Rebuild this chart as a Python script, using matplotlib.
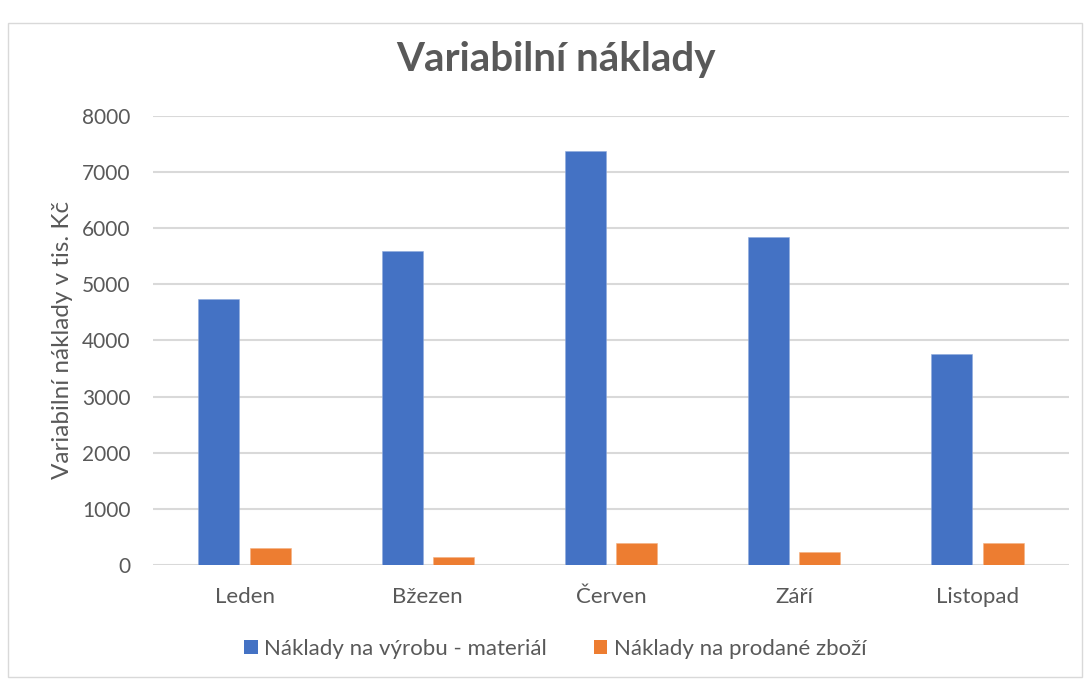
import matplotlib
matplotlib.use("Agg")
import matplotlib.pyplot as plt
from matplotlib.patches import Rectangle, Patch
import numpy as np

categories = ["Leden", "Bžezen", "Červen", "Září", "Listopad"]
material = [4740, 5590, 7380, 5840, 3750]
zbozi = [310, 145, 390, 240, 400]
series_names = ["Náklady na výrobu - materiál", "Náklady na prodané zboží"]
yticks = [0, 1000, 2000, 3000, 4000, 5000, 6000, 7000, 8000]

BLUE = "#4472C4"
ORANGE = "#ED7D31"
GRID = "#D9D9D9"
TXT = "#595959"

plt.rcParams['font.family'] = ['Lato', 'DejaVu Sans']

fig = plt.figure(figsize=(10.85, 6.82), dpi=100)
fig.patch.set_facecolor("white")
fig.patches.append(Rectangle((8/1085, 1-677/682), (1082-8)/1085, (677-23)/682,
                             transform=fig.transFigure, fill=False,
                             edgecolor=GRID, linewidth=1.0))

ax = fig.add_axes([153/1085, 1-565/682, (1069-153)/1085, (565-115.7)/682])
x = np.arange(len(categories))
w = 0.224
off = 0.14
ax.bar(x - off, material, width=w, color=BLUE, edgecolor="#8FAADC", linewidth=0.4, zorder=3)
ax.bar(x + off, zbozi, width=w, color=ORANGE, edgecolor="#F4B183", linewidth=0.4, zorder=3)

ax.set_xlim(-0.5, len(categories) - 0.5)
ax.set_ylim(0, 8000)
ax.set_yticks(yticks)
ax.set_yticklabels([str(v) for v in yticks])
ax.set_xticks(x)
ax.set_xticklabels(categories)
ax.yaxis.grid(True, color=GRID, linewidth=1.5, zorder=0)
ax.set_axisbelow(True)
for s in ax.spines.values():
    s.set_visible(False)
ax.tick_params(axis='both', length=0, labelcolor=TXT)
ax.tick_params(axis='y', pad=16, labelsize=15)
ax.tick_params(axis='x', pad=16, labelsize=16)
ax.set_ylabel("Variabilní náklady v tis. Kč", fontsize=17.5, color=TXT)
ax.yaxis.set_label_coords(-0.087, 0.5)

fig.text(0.512, 1-60/682, "Variabilní náklady", ha="center", va="center",
         fontsize=29, fontweight="bold", color=TXT)

handles = [Patch(facecolor=BLUE), Patch(facecolor=ORANGE)]
fig.legend(handles, series_names, loc="center", bbox_to_anchor=(0.512, 1-649/682),
           ncol=2, frameon=False, fontsize=16, labelcolor=TXT,
           handlelength=0.6, handleheight=0.6, handletextpad=0.3, columnspacing=2.1)

fig.savefig("out.png", dpi=100, facecolor="white")
